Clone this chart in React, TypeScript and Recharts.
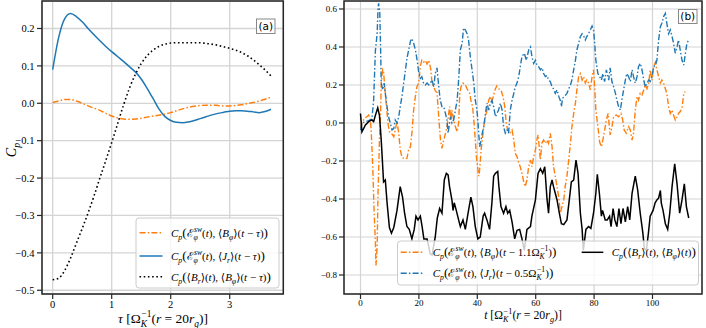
import React from 'react';
import { LineChart, Line, XAxis, YAxis, CartesianGrid, ReferenceArea } from 'recharts';

// ---------- Panel (a) data ----------
const tauA = [0, 0.1, 0.2, 0.3, 0.4, 0.5, 0.6, 0.7, 0.8, 0.9, 1.0, 1.1, 1.2, 1.3, 1.4, 1.5, 1.6, 1.7, 1.8, 1.9,
  2.0, 2.1, 2.2, 2.3, 2.4, 2.5, 2.6, 2.7, 2.8, 2.9, 3.0, 3.1, 3.2, 3.3, 3.4, 3.5, 3.6, 3.7];
const aOrange = [0.002, 0.006, 0.01, 0.01, 0.006, 0.0, -0.007, -0.013, -0.019, -0.027, -0.034, -0.039, -0.042, -0.043,
  -0.042, -0.04, -0.037, -0.034, -0.032, -0.029, -0.025, -0.02, -0.015, -0.011, -0.008, -0.006, -0.005, -0.005,
  -0.006, -0.007, -0.007, -0.006, -0.004, -0.001, 0.002, 0.006, 0.011, 0.016];
const aBlue = [0.09, 0.175, 0.225, 0.24, 0.232, 0.218, 0.2, 0.183, 0.167, 0.152, 0.138, 0.125, 0.112, 0.098, 0.084,
  0.065, 0.04, 0.013, -0.015, -0.035, -0.046, -0.051, -0.052, -0.05, -0.046, -0.041, -0.036, -0.031, -0.027, -0.024,
  -0.021, -0.02, -0.02, -0.021, -0.023, -0.025, -0.022, -0.016];
const aBlack = [-0.472, -0.468, -0.448, -0.415, -0.375, -0.335, -0.293, -0.248, -0.2, -0.153, -0.105, -0.055, -0.005,
  0.04, 0.077, 0.106, 0.127, 0.142, 0.152, 0.158, 0.161, 0.162, 0.162, 0.162, 0.162, 0.162, 0.16, 0.158, 0.155,
  0.151, 0.147, 0.142, 0.136, 0.127, 0.116, 0.103, 0.089, 0.073];
const aXTicks = [0, 1, 2, 3];
const aYTicks = [-0.5, -0.4, -0.3, -0.2, -0.1, 0, 0.1, 0.2];

// ---------- Panel (b) data: [t, value] ----------
const bOrange: [number, number][] = [
  [0, -0.028], [0.5, 0], [1.4, 0.025], [2.2, 0.033], [2.8, 0.042], [3.4, 0.016], [3.7, -0.054], [4.2, -0.23], [4.6, -0.44],
  [5.1, -0.63], [5.3, -0.75], [5.7, -0.65], [6, -0.37], [6.5, -0.09], [6.9, 0.068], [7.1, 0.21], [7.6, 0.28], [7.9, 0.27],
  [8.3, 0.19], [8.7, 0.12], [9.4, 0], [9.9, -0.046], [10.6, -0.054], [11.4, -0.072], [11.9, -0.037], [12.5, 0.007],
  [13.1, -0.054], [13.6, -0.14], [14.2, -0.18], [15.1, -0.19], [15.9, -0.186], [16.5, -0.14], [17.1, -0.125],
  [17.6, -0.054], [18.2, 0.068], [18.8, 0.14], [19.3, 0.19], [19.9, 0.21], [20.5, 0.3], [21, 0.33], [21.6, 0.32],
  [22.2, 0.33], [22.8, 0.31], [23.4, 0.33], [24.1, 0.28], [24.5, 0.21], [25.1, 0.19], [25.6, 0.17], [26.2, 0.16],
  [26.8, 0.03], [27.4, -0.09], [27.9, -0.133], [28.5, -0.09], [29.1, -0.054], [29.6, -0.02], [30.2, 0.05], [30.5, 0.086],
  [31, 0.016], [31.3, 0.068], [31.9, 0.016], [32.5, -0.02], [33.1, -0.046], [33.6, 0], [34, 0.156], [34.4, 0.19],
  [35.1, 0.21], [35.9, 0.2], [36.7, 0.174], [37.4, 0.156], [37.8, 0.12], [38.4, 0.086], [39, -0.02], [39.3, -0.09],
  [39.7, -0.177], [40.1, -0.23], [40.5, -0.28], [40.8, -0.247], [41.3, -0.142], [41.7, -0.09], [42.2, -0.02],
  [42.8, 0.033], [43.3, 0.068], [43.9, 0.12], [44.5, 0.14], [45, 0.112], [45.6, 0.147], [46.2, 0.18], [46.7, 0.195],
  [47.3, 0.18], [48.1, 0.174], [48.8, 0.14], [49.4, 0.086], [49.9, 0], [50.4, -0.037], [51.1, -0.054], [51.9, -0.037],
  [52.5, -0.09], [53, -0.16], [53.6, -0.177], [54.2, -0.21], [54.7, -0.23], [55.3, -0.265], [55.9, -0.31], [56.4, -0.335],
  [57, -0.3], [57.6, -0.23], [58.2, -0.195], [58.7, -0.23], [59.3, -0.177], [59.9, -0.142], [60.4, -0.09], [60.8, -0.063],
  [61.2, -0.125], [61.6, -0.195], [62.1, -0.107], [62.7, -0.09], [63.3, -0.107], [63.9, -0.09], [64.4, -0.107],
  [65, -0.054], [65.6, -0.125], [66.1, -0.23], [66.7, -0.28], [67.3, -0.335], [67.9, -0.39], [68.4, -0.475], [69, -0.44],
  [69.6, -0.405], [70.1, -0.335], [70.7, -0.28], [71.3, -0.195], [71.9, -0.107], [72.4, -0.02], [73, 0.05], [73.6, 0.104],
  [74.1, 0.174], [74.7, 0.244], [75.3, 0.26], [75.9, 0.226], [76.4, 0.244], [77, 0.21], [77.5, 0.226], [78.1, 0.21],
  [78.7, 0.174], [79.3, 0.244], [79.8, 0.28], [80.2, 0.19], [80.6, 0.068], [81.3, -0.02], [81.9, -0.1], [82.5, -0.125],
  [83, -0.09], [83.6, -0.037], [84.2, 0.016], [84.8, 0.05], [85.5, -0.063], [86.1, -0.02], [86.7, 0.033], [87.6, 0.042],
  [88.4, 0.033], [89.2, 0.05], [89.8, 0.016], [90.3, -0.037], [91, -0.054], [91.8, -0.02], [92.4, -0.037], [93, -0.09],
  [93.5, -0.054], [94.1, 0.068], [94.7, 0.14], [95.2, 0.12], [95.8, 0.156], [96.4, 0.147], [97, 0.174], [97.5, 0.2],
  [98.1, 0.18], [98.7, 0.21], [99.2, 0.28], [99.8, 0.226], [100.4, 0.296], [101, 0.32], [101.5, 0.28], [102.1, 0.244],
  [102.7, 0.21], [103.2, 0.226], [103.8, 0.21], [104.4, 0.18], [104.9, 0.156], [105.5, 0.086], [106.1, 0.05],
  [106.7, 0.068], [107.2, 0.042], [107.8, 0.016], [108.4, 0.033], [108.9, 0.05], [109.5, 0.06], [110.1, 0.077],
  [110.7, 0.156], [111.2, 0.165],
];
const bBlue: [number, number][] = [
  [0, -0.037], [0.5, 0], [1.7, 0.007], [2.8, 0.012], [3.9, 0.02], [4.5, 0.12], [5.1, 0.38], [5.7, 0.47], [6, 0.6],
  [6.2, 0.63], [6.6, 0.58], [6.9, 0.38], [7.1, 0.21], [7.6, 0.174], [8.1, 0.21], [8.5, 0.156], [9.1, 0.086], [9.6, 0.033],
  [10.2, 0], [10.8, -0.037], [11.4, -0.028], [11.9, 0.016], [12.5, 0], [13.1, 0.033], [13.6, 0.086], [14.2, 0.14],
  [14.8, 0.21], [15.4, 0.28], [15.9, 0.34], [16.5, 0.384], [17.1, 0.43], [17.6, 0.445], [18.2, 0.42], [18.8, 0.384],
  [19.4, 0.33], [19.9, 0.27], [20.5, 0.235], [21, 0.244], [21.6, 0.21], [22.2, 0.2], [22.8, 0.21], [23.4, 0.2],
  [23.9, 0.21], [24.5, 0.226], [25.1, 0.19], [25.6, 0.26], [26.2, 0.29], [26.8, 0.19], [27.3, 0.12], [27.9, 0.086],
  [28.5, 0.086], [29.1, 0.05], [29.6, 0.016], [30, -0.054], [30.3, -0.02], [30.8, 0.033], [31.3, 0], [31.9, 0.016],
  [32.5, 0.068], [33.1, 0.12], [33.6, 0.226], [34.2, 0.384], [34.8, 0.42], [35.3, 0.5], [35.9, 0.49], [36.5, 0.47],
  [37, 0.437], [37.6, 0.35], [38.2, 0.28], [38.8, 0.21], [39.3, 0.12], [39.7, 0.086], [40.1, 0.033], [40.8, -0.125],
  [41.3, -0.09], [41.7, -0.054], [42.2, -0.02], [42.8, 0.05], [43.3, 0.104], [43.9, 0.068], [44.5, 0.104], [45, 0.12],
  [45.6, 0.086], [46.2, 0.033], [46.7, 0.05], [47.3, 0.068], [47.9, 0.104], [48.5, 0.068], [49, -0.02], [49.6, -0.054],
  [50.2, -0.037], [50.7, -0.054], [51.3, 0.068], [51.9, 0.12], [52.5, 0.156], [53, 0.19], [53.6, 0.21], [54.2, 0.244],
  [54.7, 0.296], [55.3, 0.35], [56.1, 0.367], [56.8, 0.33], [57.6, 0.384], [58.2, 0.4], [58.7, 0.35], [59.3, 0.314],
  [59.9, 0.33], [60.4, 0.305], [61, 0.296], [61.6, 0.28], [62.2, 0.29], [62.7, 0.26], [63.3, 0.244], [63.9, 0.25],
  [64.4, 0.226], [65, 0.218], [65.6, 0.19], [66.1, 0.18], [66.7, 0.156], [67.3, 0.174], [67.9, 0.14], [68.4, 0.12],
  [68.8, 0.086], [69.2, 0.13], [69.9, 0.14], [70.7, 0.156], [71.3, 0.18], [71.9, 0.2], [72.4, 0.226], [73, 0.28],
  [73.6, 0.33], [74.1, 0.384], [74.7, 0.42], [75.3, 0.455], [75.9, 0.47], [76.4, 0.46], [77, 0.437], [77.5, 0.455],
  [78.1, 0.47], [78.7, 0.49], [79.3, 0.51], [79.8, 0.49], [80.2, 0.42], [80.6, 0.33], [81.3, 0.26], [81.9, 0.244],
  [82.5, 0.226], [83, 0.26], [83.6, 0.218], [84.2, 0.28], [85, 0.226], [85.5, 0.29], [86.1, 0.218], [86.7, 0.19],
  [87.3, 0.156], [87.8, 0.12], [88.4, 0.086], [89, 0.068], [89.5, 0.12], [90.1, 0.174], [90.7, 0.226], [91.2, 0.26],
  [91.8, 0.244], [92.4, 0.218], [93, 0.28], [93.5, 0.244], [94.1, 0.21], [94.7, 0.244], [95.2, 0.296], [95.8, 0.314],
  [96.4, 0.28], [97, 0.226], [97.5, 0.19], [98.1, 0.21], [98.7, 0.226], [99.2, 0.218], [99.8, 0.244], [100.4, 0.296],
  [101, 0.305], [101.5, 0.33], [102.1, 0.437], [102.7, 0.507], [103.2, 0.525], [103.8, 0.56], [104.4, 0.577],
  [104.9, 0.525], [105.5, 0.47], [106.1, 0.49], [106.7, 0.455], [107.2, 0.42], [107.8, 0.367], [108.4, 0.4],
  [108.9, 0.437], [109.5, 0.384], [110.1, 0.33], [110.7, 0.305], [111.2, 0.36], [111.8, 0.42], [112.4, 0.437],
];
const bBlack: [number, number][] = [
  [0, 0.05], [0.5, -0.046], [1.7, -0.01], [2.8, 0.007], [3.9, 0.016], [4.5, 0.007], [5.1, 0.04], [5.9, 0.08], [6.5, 0.04],
  [7.1, -0.09], [7.9, -0.31], [8.5, -0.3], [9.1, -0.42], [9.9, -0.55], [10.6, -0.58], [11.4, -0.55], [12.5, -0.46],
  [13.6, -0.335], [14.4, -0.39], [15.1, -0.475], [15.9, -0.545], [16.7, -0.56], [17.6, -0.61], [18.4, -0.56], [19, -0.49],
  [19.7, -0.51], [20.5, -0.49], [21.1, -0.545], [21.7, -0.61], [22.8, -0.61], [23.9, -0.69], [24.5, -0.695], [25.6, -0.6],
  [26.3, -0.5], [27.1, -0.45], [27.9, -0.475], [28.7, -0.3], [29.4, -0.265], [30, -0.273], [30.5, -0.335], [31.3, -0.405],
  [31.7, -0.46], [32.1, -0.42], [32.8, -0.46], [33.6, -0.51], [34.2, -0.545], [35.1, -0.51], [35.9, -0.56], [37, -0.46],
  [37.8, -0.39], [38.5, -0.44], [39.3, -0.545], [40.2, -0.61], [41, -0.6], [42, -0.49], [42.5, -0.475], [43.3, -0.51],
  [44.2, -0.56], [45, -0.42], [45.6, -0.28], [46.2, -0.265], [47, -0.255], [47.4, -0.335], [48.1, -0.44], [49, -0.475],
  [49.8, -0.44], [50.4, -0.475], [51.1, -0.46], [51.9, -0.52], [52.8, -0.61], [53.6, -0.565], [54.5, -0.56], [55.3, -0.61],
  [56.1, -0.67], [57, -0.56], [58.2, -0.545], [58.7, -0.49], [59.9, -0.405], [60.8, -0.265], [61.6, -0.24], [62.4, -0.265],
  [63.1, -0.23], [63.9, -0.405], [64.4, -0.475], [65, -0.335], [65.6, -0.3], [66.1, -0.335], [66.7, -0.37], [67.3, -0.405],
  [68.1, -0.475], [68.8, -0.53], [69.6, -0.535], [70.7, -0.51], [71.5, -0.405], [72.2, -0.31], [73, -0.3], [73.8, -0.195],
  [74.5, -0.265], [75.3, -0.475], [75.9, -0.56], [76.3, -0.67], [77.2, -0.56], [78.1, -0.545], [78.9, -0.555],
  [79.8, -0.475], [80.6, -0.37], [81.1, -0.27], [81.8, -0.37], [82.5, -0.49], [82.9, -0.46], [83.8, -0.51], [84.5, -0.51],
  [85.3, -0.49], [85.8, -0.545], [86.5, -0.45], [87.1, -0.51], [87.8, -0.545], [88.5, -0.45], [89.2, -0.53], [89.9, -0.45],
  [90.7, -0.52], [91.5, -0.44], [92.2, -0.51], [93, -0.37], [94.1, -0.28], [94.9, -0.35], [95.8, -0.475], [96.7, -0.58],
  [97.2, -0.66], [97.9, -0.67], [98.6, -0.58], [99.2, -0.49], [100.2, -0.46], [100.9, -0.42], [101.5, -0.405],
  [102.1, -0.395], [102.7, -0.355], [103, -0.42], [103.6, -0.46], [104.4, -0.53], [105.2, -0.56], [105.9, -0.475],
  [106.7, -0.335], [107.6, -0.215], [108.4, -0.32], [109.3, -0.475], [110.1, -0.405], [110.9, -0.32], [111.6, -0.44],
  [112.4, -0.5],
];
const bXTicks = [0, 20, 40, 60, 80, 100];
const bYTicks = [-0.8, -0.6, -0.4, -0.2, 0, 0.2, 0.4, 0.6];

// ---------- styles ----------
const ORANGE = '#ff7f0e';
const BLUE = '#1f77b4';
const SERIF = 'Liberation Serif, DejaVu Serif, serif';
const DASHDOT = '6 2.2 1.5 2.2';
const DOTTED = '1.6 2.6';
const GRID = '#d4d4d4';
const SPINE = '#262626';

const fmt = (v: number) => (v < 0 ? '\u2212' : '') + Math.abs(v).toFixed(1);
const fmtInt = (v: number) => String(v);

const dataA = tauA.map((t, i) => ({ t, o: aOrange[i], b: aBlue[i], k: aBlack[i] }));
const toObj = (arr: [number, number][]) => arr.map(([t, v]) => ({ t, v }));

// ---------- math text helper ----------
type Seg = { t: string; l?: number; i?: boolean; dx?: number; s?: number };
const n = (t: string, s?: number): Seg => ({ t, s });
const it = (t: string): Seg => ({ t, i: true });
const sb = (t: string, i = true, dx = 0): Seg => ({ t, l: -1, i, dx });
const sp = (t: string, i = true, dx = 0): Seg => ({ t, l: 1, i, dx });

function MT({ x, y, segs, size, anchor = 'start', transform }: { x: number; y: number; segs: Seg[]; size: number; anchor?: string; transform?: string }) {
  let cur = 0;
  return (
    <text x={x} y={y} style={{ fontFamily: SERIF }} fontSize={size} textAnchor={anchor as any} transform={transform} fill="#000">
      {segs.map((g, k) => {
        const l = g.l || 0;
        const target = l < 0 ? size * 0.28 : l > 0 ? -size * 0.42 : 0;
        const dy = target - cur;
        cur = target;
        const fs = (g.s || (l ? 0.7 : 1)) * size;
        return (
          <tspan key={k} dy={dy} dx={g.dx || 0} fontSize={fs} fontStyle={g.i ? 'italic' : 'normal'}>
            {g.t}
          </tspan>
        );
      })}
    </text>
  );
}

const BIG = 1.2;
const Cp = [it('C'), sb('p')];
const EswSegs = (sz: number) => [n('\u2130'), sb('\u03c6'), sp('sw', true, -sz * 0.36)];

const legA1 = (sz: number) => [...Cp, n('(', BIG), ...EswSegs(sz), n('('), it('t'), n('), \u27e8'), it('B'), sb('\u03c6'), n('\u27e9('), it('t'), n(' \u2212 '), it('\u03c4'), n(')'), n(')', BIG)];
const legA2 = (sz: number) => [...Cp, n('(', BIG), ...EswSegs(sz), n('('), it('t'), n('), \u27e8'), it('J'), sb('r'), n('\u27e9('), it('t'), n(' \u2212 '), it('\u03c4'), n(')'), n(')', BIG)];
const legA3 = () => [...Cp, n('(', BIG), n('\u27e8'), it('B'), sb('r'), n('\u27e9('), it('t'), n('), \u27e8'), it('B'), sb('\u03c6'), n('\u27e9('), it('t'), n(' \u2212 '), it('\u03c4'), n(')'), n(')', BIG)];
const omK = (sz: number) => [n('\u03a9'), sb('K'), sp('\u22121', false, -sz * 0.42)];
const legB1 = (sz: number) => [...Cp, n('(', BIG), ...EswSegs(sz), n('('), it('t'), n('), \u27e8'), it('B'), sb('\u03c6'), n('\u27e9('), it('t'), n(' \u2212 1.1'), ...omK(sz), n(')'), n(')', BIG)];
const legB2 = (sz: number) => [...Cp, n('(', BIG), ...EswSegs(sz), n('('), it('t'), n('), \u27e8'), it('J'), sb('r'), n('\u27e9('), it('t'), n(' \u2212 0.5'), ...omK(sz), n(')'), n(')', BIG)];
const legB3 = () => [...Cp, n('(', BIG), n('\u27e8'), it('B'), sb('r'), n('\u27e9('), it('t'), n('), \u27e8'), it('B'), sb('\u03c6'), n('\u27e9('), it('t'), n(')'), n(')', BIG)];
const xLab = (v: string, sz: number) => [it(v), n(' [\u03a9'), sb('K', true), sp('\u22121', false, -sz * 0.42), n('('), it('r'), n(' = 20'), it('r'), sb('g'), n(')]')];

function Overlay() {
  const la = 11;
  const lb = 11;
  return (
    <svg width={706} height={328} style={{ position: 'absolute', left: 0, top: 0, pointerEvents: 'none' }}>
      {/* y label */}
      <MT x={0} y={0} segs={[it('C'), sb('p')]} size={14} anchor="middle" transform="translate(16,150) rotate(-90)" />
      {/* x labels */}
      <MT x={163} y={323} segs={xLab('\u03c4', 13.5)} size={13.5} anchor="middle" />
      <MT x={523} y={319} segs={xLab('t', 11.8)} size={11.8} anchor="middle" />

      {/* panel tags */}
      <rect x={256.5} y={19} width={18.5} height={14.5} fill="#fff" stroke="#888" strokeWidth={1} />
      <text x={265.8} y={30} style={{ fontFamily: 'DejaVu Sans, sans-serif' }} fontSize={10.5} textAnchor="middle" fill="#000">(a)</text>
      <rect x={678.5} y={9.5} width={18.5} height={14} fill="#fff" stroke="#888" strokeWidth={1} />
      <text x={687.8} y={20.3} style={{ fontFamily: 'DejaVu Sans, sans-serif' }} fontSize={10.5} textAnchor="middle" fill="#000">(b)</text>

      {/* legend (a) */}
      <rect x={136} y={218} width={143} height={70} rx={3} fill="#fff" fillOpacity={0.8} stroke="#cccccc" strokeWidth={1} />
      <line x1={139.5} x2={162.5} y1={232.7} y2={232.7} stroke={ORANGE} strokeWidth={1.5} strokeDasharray={DASHDOT} />
      <line x1={139.5} x2={162.5} y1={256} y2={256} stroke={BLUE} strokeWidth={1.5} />
      <line x1={139.5} x2={162.5} y1={276.7} y2={276.7} stroke="#000" strokeWidth={1.5} strokeDasharray={DOTTED} />
      <MT x={171} y={236.5} segs={legA1(la)} size={la} />
      <MT x={171} y={259.8} segs={legA2(la)} size={la} />
      <MT x={171} y={280.5} segs={legA3()} size={la} />

      {/* legend (b) */}
      <rect x={397.5} y={241} width={301} height={44} rx={3} fill="#fff" fillOpacity={0.8} stroke="#cccccc" strokeWidth={1} />
      <line x1={400.7} x2={423.3} y1={252.3} y2={252.3} stroke={ORANGE} strokeWidth={1.5} strokeDasharray={DASHDOT} />
      <line x1={400.7} x2={423.3} y1={273.3} y2={273.3} stroke={BLUE} strokeWidth={1.5} strokeDasharray={DASHDOT} />
      <line x1={581.7} x2={603.3} y1={252.3} y2={252.3} stroke="#000" strokeWidth={1.5} />
      <MT x={432.7} y={256} segs={legB1(lb)} size={lb} />
      <MT x={432.7} y={277} segs={legB2(lb)} size={lb} />
      <MT x={611.7} y={256} segs={legB3()} size={lb} />
    </svg>
  );
}

const aXDom: [number, number] = [-0.181, 3.908];
const aYDom: [number, number] = [-0.51, 0.2735];
const bXDom: [number, number] = [-5.65, 116.95];
const bYDom: [number, number] = [-0.9, 0.642];

const tickA = { fontSize: 10.5, fill: '#000', style: { fontFamily: SERIF } };
const tickB = { fontSize: 9, fill: '#000', style: { fontFamily: SERIF } };

export default function App() {
  return (
    <div style={{ position: 'absolute', left: 0, top: 0, width: 706, height: 328, background: '#fff', overflow: 'hidden', fontFamily: SERIF }}>
      <div style={{ position: 'absolute', left: 0, top: 0 }}>
        <LineChart width={290} height={328} data={dataA} margin={{ top: 1, right: 6.7, bottom: 0, left: 0 }}>
          <CartesianGrid stroke={GRID} strokeWidth={1.3} />
          <XAxis dataKey="t" type="number" domain={aXDom} allowDataOverflow ticks={aXTicks} tickFormatter={fmtInt}
            height={34} tickSize={5} tickMargin={2} axisLine={false} tickLine={{ stroke: SPINE, strokeWidth: 1.2 }}
            tick={tickA} interval={0} />
          <YAxis type="number" domain={aYDom} allowDataOverflow ticks={aYTicks} tickFormatter={fmt}
            width={42} tickSize={5} tickMargin={2.5} axisLine={false} tickLine={{ stroke: SPINE, strokeWidth: 1.2 }}
            tick={tickA} interval={0} />
          <Line dataKey="o" type="monotone" stroke={ORANGE} strokeWidth={1.5} strokeDasharray={DASHDOT} dot={false} isAnimationActive={false} />
          <Line dataKey="b" type="monotone" stroke={BLUE} strokeWidth={1.5} dot={false} isAnimationActive={false} />
          <Line dataKey="k" type="monotone" stroke="#000" strokeWidth={1.6} strokeDasharray={DOTTED} dot={false} isAnimationActive={false} />
          <ReferenceArea x1={aXDom[0]} x2={aXDom[1]} y1={aYDom[0]} y2={aYDom[1]} fill="none" stroke={SPINE} strokeWidth={1.5} ifOverflow="visible" />
        </LineChart>
      </div>
      <div style={{ position: 'absolute', left: 300, top: 0 }}>
        <LineChart width={406} height={328} margin={{ top: 1, right: 4, bottom: 0, left: 0 }}>
          <CartesianGrid stroke={GRID} strokeWidth={1.2} />
          <XAxis dataKey="t" type="number" domain={bXDom} allowDataOverflow ticks={bXTicks} tickFormatter={fmtInt}
            height={34} tickSize={5} tickMargin={0.5} axisLine={false} tickLine={{ stroke: SPINE, strokeWidth: 1.2 }}
            tick={tickB} interval={0} />
          <YAxis type="number" domain={bYDom} allowDataOverflow ticks={bYTicks} tickFormatter={fmt}
            width={44} tickSize={5} tickMargin={2} axisLine={false} tickLine={{ stroke: SPINE, strokeWidth: 1.2 }}
            tick={tickB} interval={0} />
          <Line data={toObj(bOrange)} dataKey="v" type="linear" stroke={ORANGE} strokeWidth={1.4} strokeDasharray={DASHDOT} dot={false} isAnimationActive={false} />
          <Line data={toObj(bBlue)} dataKey="v" type="linear" stroke={BLUE} strokeWidth={1.4} strokeDasharray={DASHDOT} dot={false} isAnimationActive={false} />
          <Line data={toObj(bBlack)} dataKey="v" type="linear" stroke="#000" strokeWidth={1.5} dot={false} isAnimationActive={false} />
          <ReferenceArea x1={bXDom[0]} x2={bXDom[1]} y1={bYDom[0]} y2={bYDom[1]} fill="none" stroke={SPINE} strokeWidth={1.5} ifOverflow="visible" />
        </LineChart>
      </div>
      <Overlay />
    </div>
  );
}
